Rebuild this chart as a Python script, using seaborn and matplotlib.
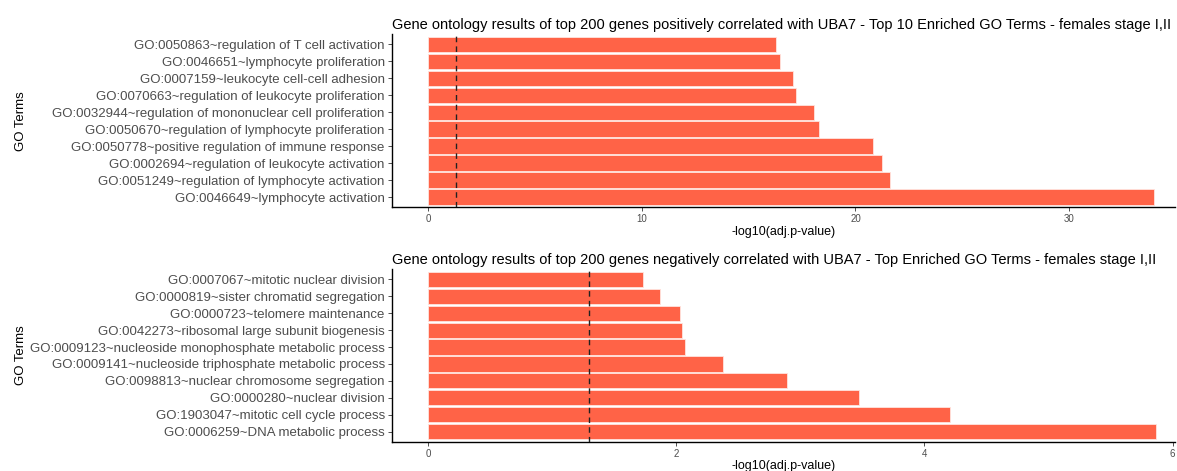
import matplotlib
matplotlib.use("Agg")
import matplotlib.pyplot as plt
import seaborn as sns
import pandas as pd

# ---- data ----
pos_terms = [
    "GO:0050863~regulation of T cell activation",
    "GO:0046651~lymphocyte proliferation",
    "GO:0007159~leukocyte cell-cell adhesion",
    "GO:0070663~regulation of leukocyte proliferation",
    "GO:0032944~regulation of mononuclear cell proliferation",
    "GO:0050670~regulation of lymphocyte proliferation",
    "GO:0050778~positive regulation of immune response",
    "GO:0002694~regulation of leukocyte activation",
    "GO:0051249~regulation of lymphocyte activation",
    "GO:0046649~lymphocyte activation",
]
pos_values = [16.30, 16.45, 17.09, 17.23, 18.08, 18.27, 20.83, 21.23, 21.61, 33.96]

neg_terms = [
    "GO:0007067~mitotic nuclear division",
    "GO:0000819~sister chromatid segregation",
    "GO:0000723~telomere maintenance",
    "GO:0042273~ribosomal large subunit biogenesis",
    "GO:0009123~nucleoside monophosphate metabolic process",
    "GO:0009141~nucleoside triphosphate metabolic process",
    "GO:0098813~nuclear chromosome segregation",
    "GO:0000280~nuclear division",
    "GO:1903047~mitotic cell cycle process",
    "GO:0006259~DNA metabolic process",
]
neg_values = [1.736, 1.867, 2.031, 2.047, 2.072, 2.379, 2.891, 3.472, 4.21, 5.868]

pos_ticks = [0, 10, 20, 30]
neg_ticks = [0, 2, 4, 6]
threshold = 1.301  # -log10(0.05)

titles = [
    "Gene ontology results of top 200 genes positively correlated with UBA7 - Top 10 Enriched GO Terms - females stage I,II",
    "Gene ontology results of top 200 genes negatively correlated with UBA7 - Top Enriched GO Terms - females stage I,II",
]

sns.set_theme(style="ticks")
plt.rcParams["font.family"] = ["Liberation Sans", "DejaVu Sans"]

W, H = 1177, 471
fig = plt.figure(figsize=(W / 100, H / 100), dpi=100)

def rect(l, t, r, b):
    return [l / W, 1 - b / H, (r - l) / W, (b - t) / H]

panels = [
    (pos_terms, pos_values, pos_ticks, (-1.70, 34.95), rect(391.7, 34, 1175, 207.3), titles[0]),
    (neg_terms, neg_values, neg_ticks, (-0.293, 6.02), rect(391.7, 269.3, 1175, 441.7), titles[1]),
]

for terms, vals, ticks, xlim, r, title in panels:
    ax = fig.add_axes(r)
    df = pd.DataFrame({"term": terms, "value": vals})
    sns.barplot(data=df, x="value", y="term", orient="h", color="#FF6347",
                saturation=1, width=0.9, edgecolor="#FFE4DE", linewidth=0.6, ax=ax)
    ax.axvline(threshold, color="#222222", linestyle=(0, (4, 3)), linewidth=1.0, zorder=5)
    ax.set_xlim(*xlim)
    ax.set_ylim(len(terms) - 0.4, -0.6)
    ax.set_xticks(ticks)
    ax.set_xticklabels([str(t) for t in ticks])
    ax.tick_params(axis="x", labelsize=7, labelcolor="#4D4D4D", color="#333333",
                   length=3, width=0.6, pad=2)
    ax.tick_params(axis="y", labelsize=9.5, labelcolor="#4D4D4D", color="#333333",
                   length=3, width=0.6, pad=2)
    for s in ["top", "right"]:
        ax.spines[s].set_visible(False)
    for s in ["left", "bottom"]:
        ax.spines[s].set_linewidth(1.0)
        ax.spines[s].set_color("black")
    ax.set_xlabel("-log10(adj.p-value)", fontsize=9, color="black", labelpad=1)
    ax.set_ylabel("GO Terms", fontsize=9.5, color="black")
    ax.set_title(title, loc="left", fontsize=10.5, color="black", pad=3.5)
    ax.yaxis.set_label_coords(-0.466, 0.5)

fig.savefig("out.png", dpi=100)
